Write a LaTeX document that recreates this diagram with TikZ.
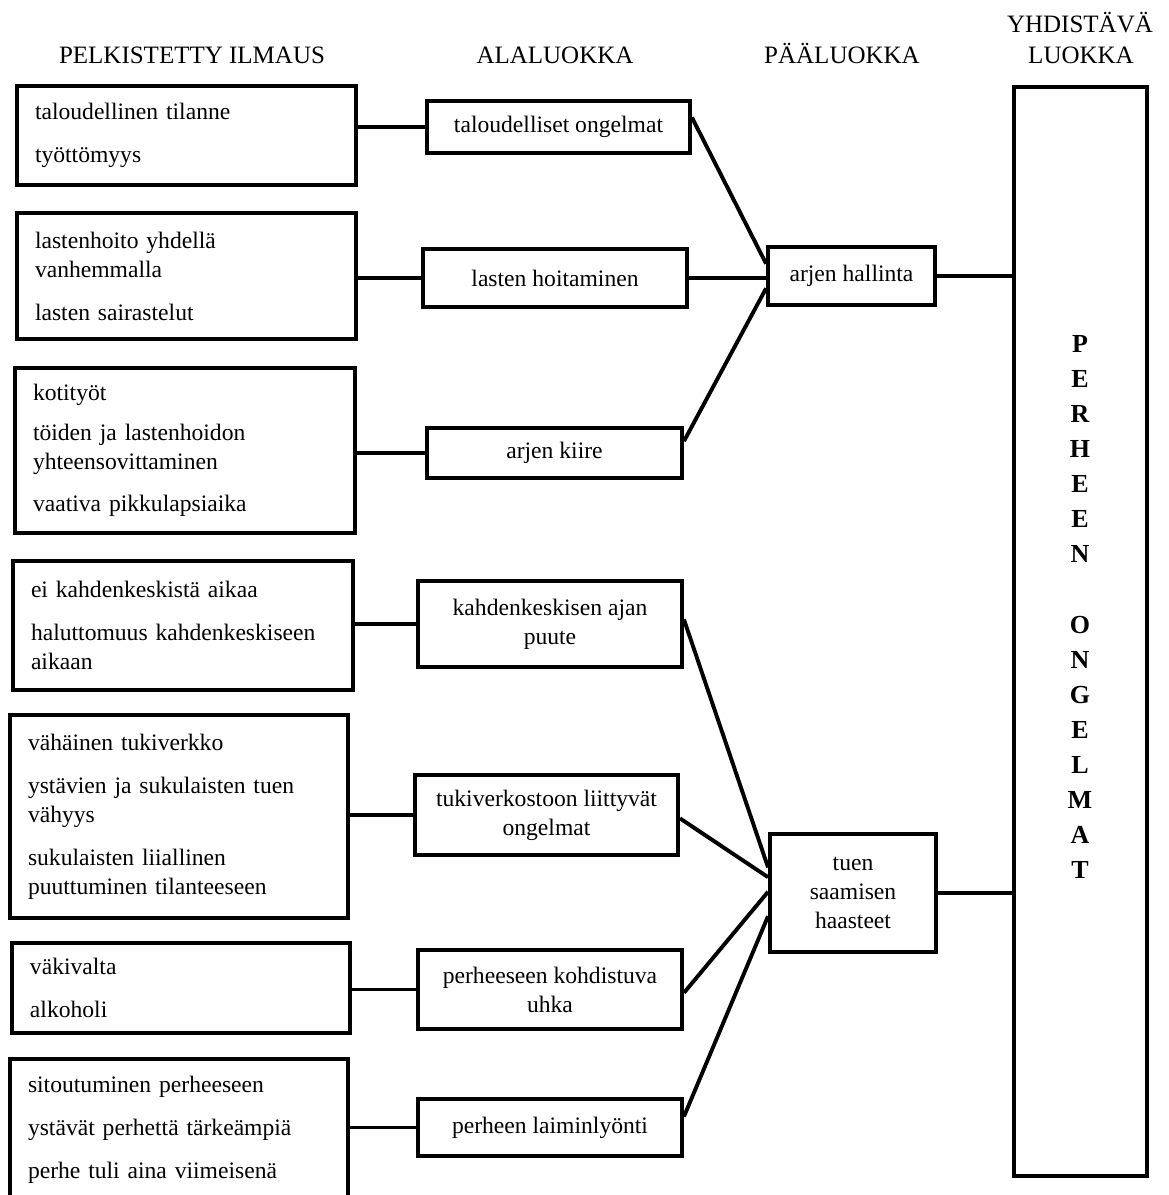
\documentclass[tikz,border=0pt]{standalone}
\usepackage{fontspec}
\setmainfont{Liberation Serif}
\usetikzlibrary{calc}
\tikzset{
  conn/.style={line width=3.9pt},
  bx/.style={draw, line width=3.9pt, rectangle, inner sep=0pt, font=\fontsize{23.6}{29}\selectfont},
  leftbox/.style={bx, align=left, inner xsep=18pt},
  midbox/.style={bx, align=center},
  hdr/.style={font=\fontsize{25}{31}\selectfont, anchor=base, inner sep=0pt},
}
\newcommand{\lbox}[6]{% name, cx, cy, w, h, text
  \node[leftbox, minimum width=#4pt, minimum height=#5pt, text width=#4pt-36pt] (#1) at (#2,#3) {#6};}
\newcommand{\cbox}[6]{% name, cx, cy, w, h, text
  \node[midbox, minimum width=#4pt, minimum height=#5pt] (#1) at (#2,#3) {#6};}
\begin{document}
\begin{tikzpicture}[x=1pt,y=-1pt]
\useasboundingbox (0,0) rectangle (1169,1195);
\clip (0,0) rectangle (1169,1195);

% headers
\node[hdr] (h1) at (192,63) {PELKISTETTY ILMAUS};
\node[hdr] (h2) at (555,63) {ALALUOKKA};
\node[hdr] (h3) at (842,63) {PÄÄLUOKKA};
\node[hdr] (h4a) at (1080,32) {YHDISTÄVÄ};
\node[hdr] (h4b) at (1081,63) {LUOKKA};

% left column
\lbox{L1}{186.5}{135.5}{339}{99}{taloudellinen tilanne\\[14pt]työttömyys}
\lbox{L2}{186.5}{276}{339}{126}{lastenhoito yhdellä\\vanhemmalla\\[14pt]lasten sairastelut}
\lbox{L3}{185}{450.5}{340}{165}{kotityöt\\[11pt]töiden ja lastenhoidon\\yhteensovittaminen\\[13pt]vaativa pikkulapsiaika}
\lbox{L4}{183}{625.5}{340}{129}{ei kahdenkeskistä aikaa\\[14pt]haluttomuus kahdenkeskiseen\\aikaan}
\lbox{L5}{179}{816.5}{338}{203}{vähäinen tukiverkko\\[14pt]ystävien ja sukulaisten tuen\\vähyys\\[14pt]sukulaisten liiallinen\\puuttuminen tilanteeseen}
\lbox{L6}{181}{988}{338}{90}{väkivalta\\[14pt]alkoholi}
\lbox{L7}{179}{1130}{338}{142}{sitoutuminen perheeseen\\[14pt]ystävät perhettä tärkeämpiä\\[14pt]perhe tuli aina viimeisenä}

% sub categories
\cbox{M1}{558.5}{127}{263}{52}{taloudelliset ongelmat}
\cbox{M2}{555}{278}{264}{58}{lasten hoitaminen}
\cbox{M3}{554.5}{453}{255}{50}{arjen kiire}
\cbox{M4}{550}{624}{264}{86}{kahdenkeskisen ajan\\puute}
\cbox{M5}{546.5}{815}{263}{80}{tukiverkostoon liittyvät\\ongelmat}
\cbox{M6}{550}{989.5}{264}{79}{perheeseen kohdistuva\\uhka}
\cbox{M7}{550}{1127.5}{264}{57}{perheen laiminlyönti}

% main categories
\cbox{P1}{851.5}{276}{167}{58}{arjen hallinta}
\cbox{P2}{853}{893}{166}{118}{tuen\\saamisen\\haasteet}

% combining category
\node[bx, minimum width=133pt, minimum height=1089pt] (Y) at (1080.5,631.5) {};
\node[font=\fontsize{26}{35.1}\selectfont\bfseries, align=center, inner sep=0pt] (Yt) at (1080,607)
  {P\\E\\R\\H\\E\\E\\N\\[35.1pt]O\\N\\G\\E\\L\\M\\A\\T};

% connectors left -> sub
\foreach \i in {1,...,7}{
  \draw[conn] (M\i.west -| L\i.east) -- (M\i.west);
}

% sub -> main
\draw[conn] ($(M1.north east)!0.33!(M1.south east)$) -- ($(P1.north west)!0.30!(P1.south west)$);
\draw[conn] (M2.east) -- (M2.east -| P1.west);
\draw[conn] ($(M3.north east)!0.28!(M3.south east)$) -- ($(P1.north west)!0.70!(P1.south west)$);
\draw[conn] ($(M4.north east)!0.45!(M4.south east)$) -- ($(P2.north west)!0.29!(P2.south west)$);
\draw[conn] ($(M5.north east)!0.54!(M5.south east)$) -- ($(P2.north west)!0.37!(P2.south west)$);
\draw[conn] ($(M6.north east)!0.54!(M6.south east)$) -- ($(P2.north west)!0.49!(P2.south west)$);
\draw[conn] ($(M7.north east)!0.32!(M7.south east)$) -- ($(P2.north west)!0.69!(P2.south west)$);

% main -> combining
\draw[conn] (P1.east) -- (P1.east -| Y.west);
\draw[conn] (P2.east) -- (P2.east -| Y.west);
\end{tikzpicture}
\end{document}
